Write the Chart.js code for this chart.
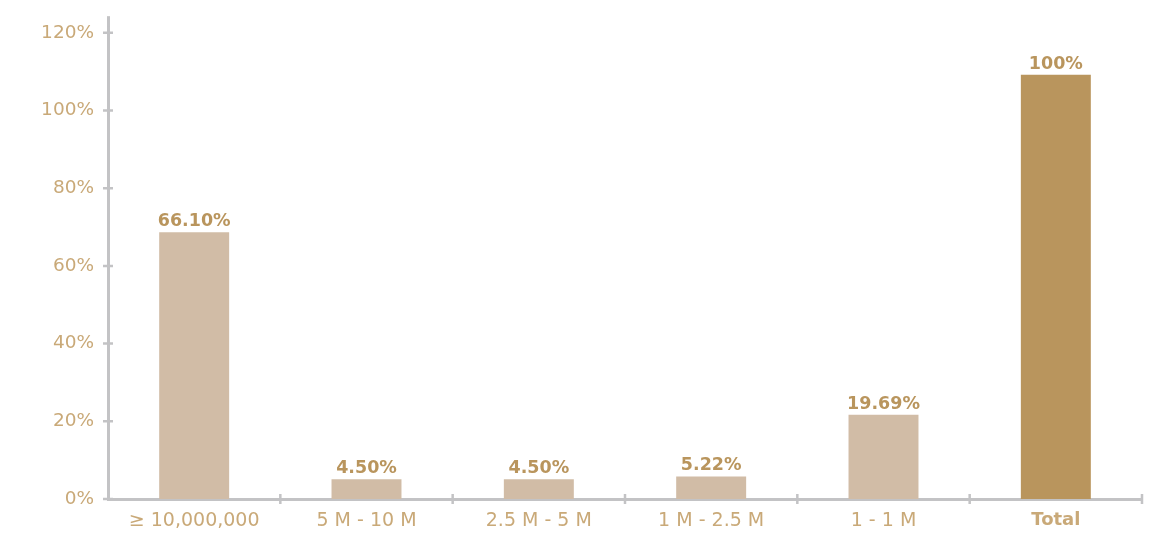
<!DOCTYPE html>
<html>
<head>
<meta charset="utf-8">
<script src="https://cdn.jsdelivr.net/npm/chart.js@4/dist/chart.umd.min.js"></script>
<style>
html,body{margin:0;padding:0;background:#fff;}
#wrap{width:1169px;height:533px;position:relative;}
</style>
</head>
<body>
<div id="wrap"><canvas id="c" width="1169" height="533"></canvas></div>
<script>
const categories = ["≥ 10,000,000", "5 M - 10 M", "2.5 M - 5 M", "1 M - 2.5 M", "1 - 1 M", "Total"];
const barValues = [68.7, 5.1, 5.1, 5.8, 21.7, 109.2];
const valueLabels = ["66.10%", "4.50%", "4.50%", "5.22%", "19.69%", "100%"];
const yTickValues = [0, 20, 40, 60, 80, 100, 120];

const LIGHT = "#d1bca6";
const DARK = "#b9955d";
const TEXT = "#c9a978";
const AXIS = "#c3c3c5";
const FONT = "'DejaVu Sans', sans-serif";

const crossTicks = {
  id: "crossTicks",
  afterDraw(chart) {
    const ctx = chart.ctx;
    const x = chart.scales.x, y = chart.scales.y;
    ctx.save();
    ctx.strokeStyle = AXIS;
    ctx.lineWidth = 3;
    ctx.beginPath();
    ctx.moveTo(Math.round(x.left - 1.5) + 1.5, y.top + 1);
    ctx.lineTo(Math.round(x.left - 1.5) + 1.5, y.getPixelForValue(124.3));
    ctx.stroke();
    ctx.lineWidth = 2.5;
    ctx.beginPath();
    y.ticks.forEach(t => {
      const py = y.getPixelForValue(t.value);
      ctx.moveTo(x.left - 5, py);
      ctx.lineTo(x.left + 5, py);
    });
    const n = categories.length;
    for (let i = 1; i <= n; i++) {
      const px = x.left + i * (x.right - x.left) / n;
      ctx.moveTo(px, y.bottom - 5);
      ctx.lineTo(px, y.bottom + 5);
    }
    ctx.stroke();
    const meta = chart.getDatasetMeta(0);
    ctx.fillStyle = DARK;
    ctx.font = "bold 17.5px " + FONT;
    ctx.textAlign = "center";
    ctx.textBaseline = "alphabetic";
    meta.data.forEach((bar, i) => {
      ctx.fillText(valueLabels[i], bar.x, bar.y - 6);
    });
    ctx.restore();
  }
};

new Chart(document.getElementById("c"), {
  type: "bar",
  data: {
    labels: categories,
    datasets: [{
      data: barValues,
      backgroundColor: barValues.map((v, i) => i === barValues.length - 1 ? DARK : LIGHT),
      borderWidth: 0,
      barPercentage: 0.406,
      categoryPercentage: 1.0
    }]
  },
  options: {
    responsive: false,
    animation: false,
    devicePixelRatio: 1,
    layout: { padding: { top: -6, right: 27, bottom: 0, left: 0 } },
    plugins: { legend: { display: false }, tooltip: { enabled: false } },
    scales: {
      x: {
        afterFit(scale) { scale.height = 34; },
        grid: { display: false, drawTicks: false },
        border: { display: true, color: AXIS, width: 3 },
        ticks: {
          padding: 11,
          color: TEXT,
          font: (ctx) => ctx.index === categories.length - 1
            ? { family: FONT, size: 18, weight: "bold" }
            : { family: FONT, size: 19, weight: "normal" },
          maxRotation: 0,
          autoSkip: false
        }
      },
      y: {
        min: 0,
        max: 122.0,
        afterBuildTicks(scale) {
          scale.ticks = yTickValues.map(v => ({ value: v }));
        },
        afterFit(scale) { scale.width = 108; },
        grid: { display: false, drawTicks: false },
        border: { display: true, color: AXIS, width: 3 },
        ticks: {
          padding: 14,
          color: TEXT,
          font: { family: FONT, size: 18.5 },
          callback: (v) => v + "%"
        }
      }
    }
  },
  plugins: [crossTicks]
});
</script>
</body>
</html>
